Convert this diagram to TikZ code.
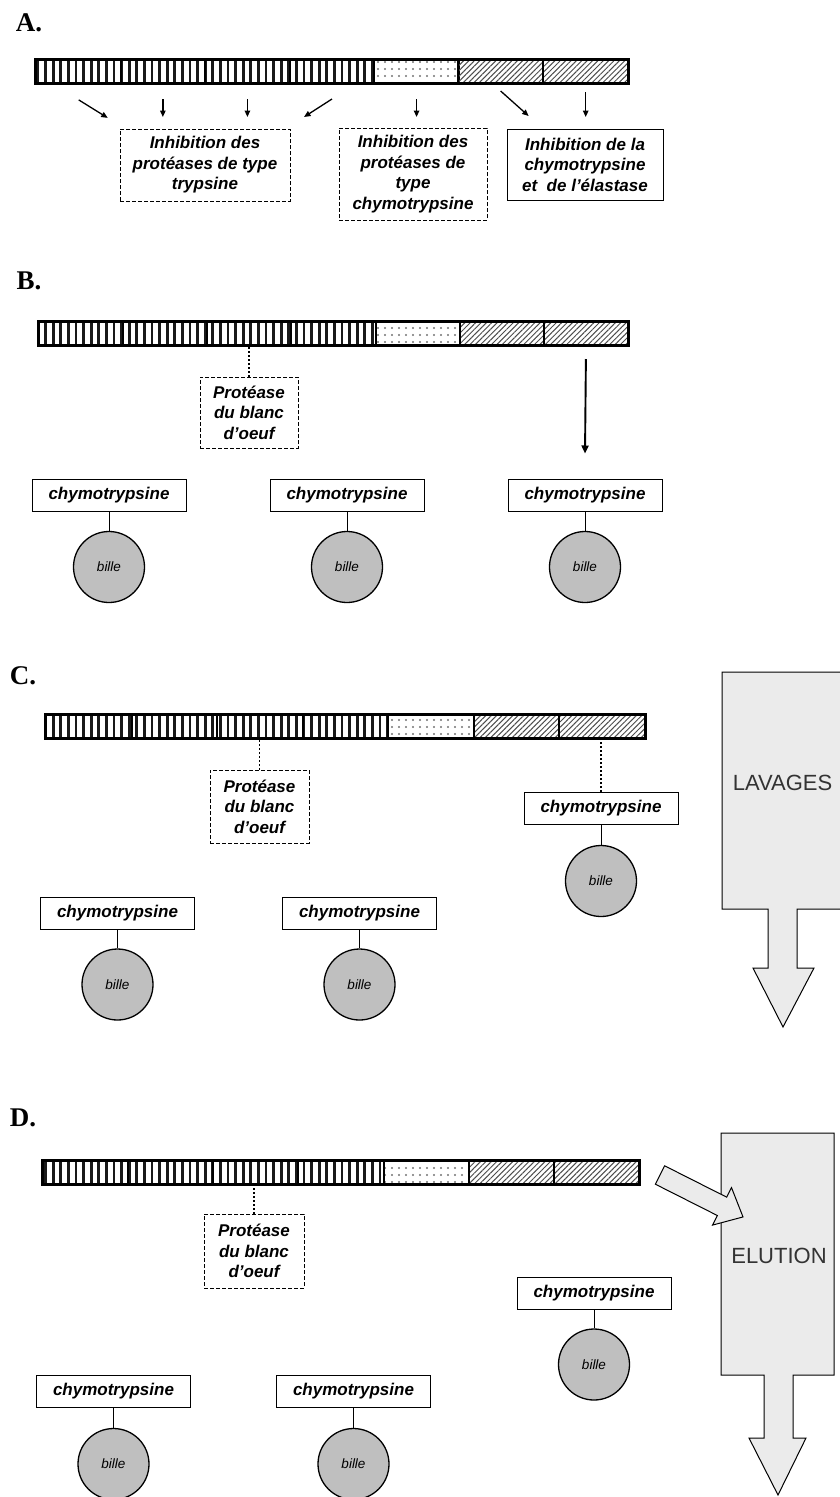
\documentclass[tikz,border=0pt]{standalone}
\usepackage{fontspec}
\setmainfont{Liberation Sans}
\newfontfamily\panelfont{Liberation Serif}
\usetikzlibrary{arrows.meta,positioning,calc,patterns.meta}

\tikzset{
  rayure/.style={pattern={Lines[angle=90,distance=7.6pt,line width=2.9pt]}, pattern color=black!90},
  points/.style={pattern={Dots[distance=7pt,radius=1.1pt]}, pattern color=black!55},
  hachure/.style={pattern={Lines[angle=45,distance=3.8pt,line width=1pt]}, pattern color=black!70}
}
% name, left x, top y, segment width, height
\newcommand{\inhibbar}[5]{%
  \foreach \i/\s in {1/rayure,2/rayure,3/rayure,4/rayure,5/points,6/hachure,7/hachure}
    \node[seg, \s, minimum width=#4pt, minimum height=#5pt, anchor=north west]
      (#1\i) at ({#2+(\i-1)*#4}, #3) {};
  \draw[line width=2.6pt] (#11.north west) rectangle (#17.south east);
}

\begin{document}
\begin{tikzpicture}[x=1pt, y=-1pt,
    seg/.style={draw, line width=2pt, inner sep=0pt},
    inhib/.style={draw, line width=1pt, align=center, inner sep=0pt,
                  font=\bfseries\itshape\fontsize{17}{20.5}\selectfont},
    pointille/.style={inhib, dash pattern=on 4pt off 2pt},
    enzyme/.style={draw, line width=1pt, minimum width=154pt, minimum height=32pt,
                   inner sep=0pt, font=\bfseries\itshape\fontsize{17}{20}\selectfont},
    bille/.style={circle, draw, line width=1.3pt, fill=black!25, minimum size=71pt,
                  inner sep=0pt, font=\itshape\fontsize{13.5}{15}\selectfont},
    lien/.style={line width=1pt},
    liaison/.style={line width=1.8pt, dash pattern=on 2pt off 2pt},
    fl/.style={-{Triangle[length=6.5pt,width=5.5pt]}, line width=1.3pt},
    bloc/.style={draw, line width=1pt, fill=black!8},
    etape/.style={font=\panelfont\bfseries\fontsize{27}{27}\selectfont},
    lavage/.style={font=\fontsize{22}{22}\selectfont, text=black!80}
  ]
  \useasboundingbox (0,0) rectangle (839,1497);

  % A.
  \node[etape] (labA) at (29,23) {A.};
  \inhibbar{a}{35}{59}{84.57}{23}
  \node[pointille, minimum width=170pt, minimum height=72pt] (trypA) at (205,165)
    {Inhibition des\\protéases de type\\trypsine};
  \node[pointille, minimum width=148pt, minimum height=92pt] (chymA) at (413,174)
    {Inhibition des\\protéases de\\type\\chymotrypsine};
  \node[inhib, minimum width=156pt, minimum height=71pt] (elasA) at (585,164.5)
    {Inhibition de la\\chymotrypsine\\et\ \ de l’élastase};
  \draw[fl] ($(a1.south)+(0,15)$) -- ($(a1.south)+(29,33)$);
  \draw[fl] ($(a2.south)+(0,15)$) -- ($(a2.south)+(0,33)$);
  \draw[fl] ($(a3.south)+(0,15)$) -- ($(a3.south)+(0,33)$);
  \draw[fl] ($(a4.south)+(0,15)$) -- ($(a4.south)+(-28,33)$);
  \draw[fl] ($(a5.south)+(0,15)$) -- ($(a5.south)+(0,33)$);
  \draw[fl] ($(a6.south)+(0,8)$) -- ($(a6.south)+(28,33)$);
  \draw[fl] ($(a7.south)+(0,8)$) -- ($(a7.south)+(0,33)$);

  % B.
  \node[etape] (labB) at (29,281) {B.};
  \inhibbar{b}{38}{321}{84.14}{23}
  \node[pointille, minimum width=98pt, minimum height=71pt] (protB) at (249,412.5)
    {Protéase\\du blanc\\d’oeuf};
  \draw[liaison] (protB.north) -- (protB.north |- b3.south);
  \foreach \n/\x in {1/109,2/347,3/585}{
    \node[enzyme] (chyB\n) at (\x,495) {chymotrypsine};
    \node[bille] (bilB\n) at (\x,567) {bille};
    \draw[lien] (chyB\n) -- (bilB\n);
  }
  \draw[-{Triangle[length=8pt,width=7pt]}, line width=1.9pt]
    ($(b7.south)+(0,13)$) -- ($(chyB3.north)+(0,-25)$);

  % C.
  \node[etape] (labC) at (23,676) {C.};
  \inhibbar{c}{45}{714}{85.57}{23}
  \node[pointille, minimum width=99pt, minimum height=73pt] (protC) at (259.5,806.5)
    {Protéase\\du blanc\\d’oeuf};
  \draw[liaison] (protC.north) -- (protC.north |- c3.south);
  \node[enzyme] (chyC3) at (601,808.5) {chymotrypsine};
  \node[bille] (bilC3) at (601,881) {bille};
  \draw[lien] (chyC3) -- (bilC3);
  \draw[liaison] (chyC3.north) -- (chyC3.north |- c7.south);
  \foreach \n/\x in {1/117.5,2/359.5}{
    \node[enzyme] (chyC\n) at (\x,913) {chymotrypsine};
    \node[bille] (bilC\n) at (\x,984.5) {bille};
    \draw[lien] (chyC\n) -- (bilC\n);
  }
  \draw[bloc] (722,672) -- (845,672) -- (845,909) -- (797,909) -- (797,968) -- (814,968)
    -- (783,1027) -- (753,968) -- (768,968) -- (768,909) -- (722,909) -- cycle;
  \node[lavage] (lav) at (782.5,783) {LAVAGES};

  % D.
  \node[etape] (labD) at (23,1118) {D.};
  \inhibbar{d}{42}{1160}{85.14}{23}
  \node[pointille, minimum width=100pt, minimum height=74pt] (protD) at (254,1251)
    {Protéase\\du blanc\\d’oeuf};
  \draw[liaison] (protD.north) -- (protD.north |- d3.south);
  \node[enzyme] (chyD3) at (594,1293.5) {chymotrypsine};
  \node[bille] (bilD3) at (594,1364.5) {bille};
  \draw[lien] (chyD3) -- (bilD3);
  \foreach \n/\x in {1/113.5,2/353.5}{
    \node[enzyme] (chyD\n) at (\x,1391.5) {chymotrypsine};
    \node[bille] (bilD\n) at (\x,1464) {bille};
    \draw[lien] (chyD\n) -- (bilD\n);
  }
  \draw[bloc] (721,1133) -- (834,1133) -- (834,1375) -- (793,1375) -- (793,1438) -- (806,1438)
    -- (778,1495) -- (749,1438) -- (764,1438) -- (764,1375) -- (721,1375) -- cycle;
  \node[lavage] (elu) at (779,1256) {ELUTION};
  \begin{scope}[shift={(660,1175)}, rotate=-26.8]
    \draw[bloc] (0,-10.3) -- (69.5,-10.3) -- (69.5,-21) -- (93,0) -- (69.5,21)
      -- (69.5,10.3) -- (0,10.3) -- cycle;
  \end{scope}
\end{tikzpicture}
\end{document}
